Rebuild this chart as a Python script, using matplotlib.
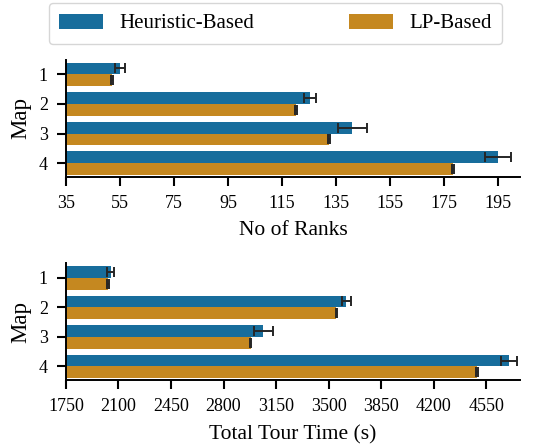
import matplotlib.pyplot as plt
import numpy as np

plt.rcParams['font.family'] = ['Liberation Serif', 'DejaVu Serif']

maps = ['1', '2', '3', '4']
methods = ['Heuristic-Based', 'LP-Based']
colors = ['#176d9c', '#c58820']

ranks_heur = [55, 125.4, 141, 195]
ranks_heur_err = [2.0, 2.2, 5.5, 4.8]
ranks_lp = [52.1, 120.2, 132.3, 178.2]
ranks_lp_err = [0.4, 0.3, 0.3, 0.3]

time_heur = [2048, 3618, 3065, 4700]
time_heur_err = [25, 28, 63, 52]
time_lp = [2030, 3551, 2980, 4490]
time_lp_err = [4, 4, 6, 6]

rank_ticks = np.arange(35, 196, 20)
time_ticks = np.arange(1750, 4551, 350)

fig = plt.figure(figsize=(5.4, 4.45), dpi=100)
ax1 = fig.add_axes([0.122, 0.603, 0.841, 0.263])
ax2 = fig.add_axes([0.122, 0.146, 0.841, 0.263])


def draw(ax, heur, heur_err, lp, lp_err, ticks, xlim, xlabel):
    y = np.arange(len(maps))
    h = 0.4
    ekw = dict(ecolor='#262626', elinewidth=1.4, capsize=3.5, capthick=1.4)
    ax.barh(y - h / 2, heur, height=h, xerr=heur_err, color=colors[0],
            label=methods[0], error_kw=ekw)
    ax.barh(y + h / 2, lp, height=h, xerr=lp_err, color=colors[1],
            label=methods[1], error_kw=ekw)
    ax.set_yticks(y)
    ax.set_yticklabels(maps)
    ax.set_ylim(3.46, -0.5)
    ax.set_xticks(ticks)
    ax.set_xlim(*xlim)
    ax.set_xlabel(xlabel, fontsize=15.5, labelpad=7)
    ax.set_ylabel('Map', fontsize=16.5, labelpad=5)
    ax.spines['top'].set_visible(False)
    ax.spines['right'].set_visible(False)
    for s in ['left', 'bottom']:
        ax.spines[s].set_linewidth(1.4)
    ax.tick_params(axis='both', labelsize=13, width=1.5, length=6.5, pad=6.5)


draw(ax1, ranks_heur, ranks_heur_err, ranks_lp, ranks_lp_err,
     rank_ticks, (35, 203), 'No of Ranks')
draw(ax2, time_heur, time_heur_err, time_lp, time_lp_err,
     time_ticks, (1750, 4775), 'Total Tour Time (s)')

handles, labels = ax1.get_legend_handles_labels()
fig.legend(handles, labels, loc='upper left', ncol=2, mode='expand',
           bbox_to_anchor=(0.09, 0.993, 0.84, 0.0), borderaxespad=0,
           fontsize=15, handlelength=2.1, handleheight=0.75,
           handletextpad=0.8, frameon=True, edgecolor='#cccccc',
           fancybox=True, borderpad=0.5)

fig.savefig('out.png', dpi=100)
